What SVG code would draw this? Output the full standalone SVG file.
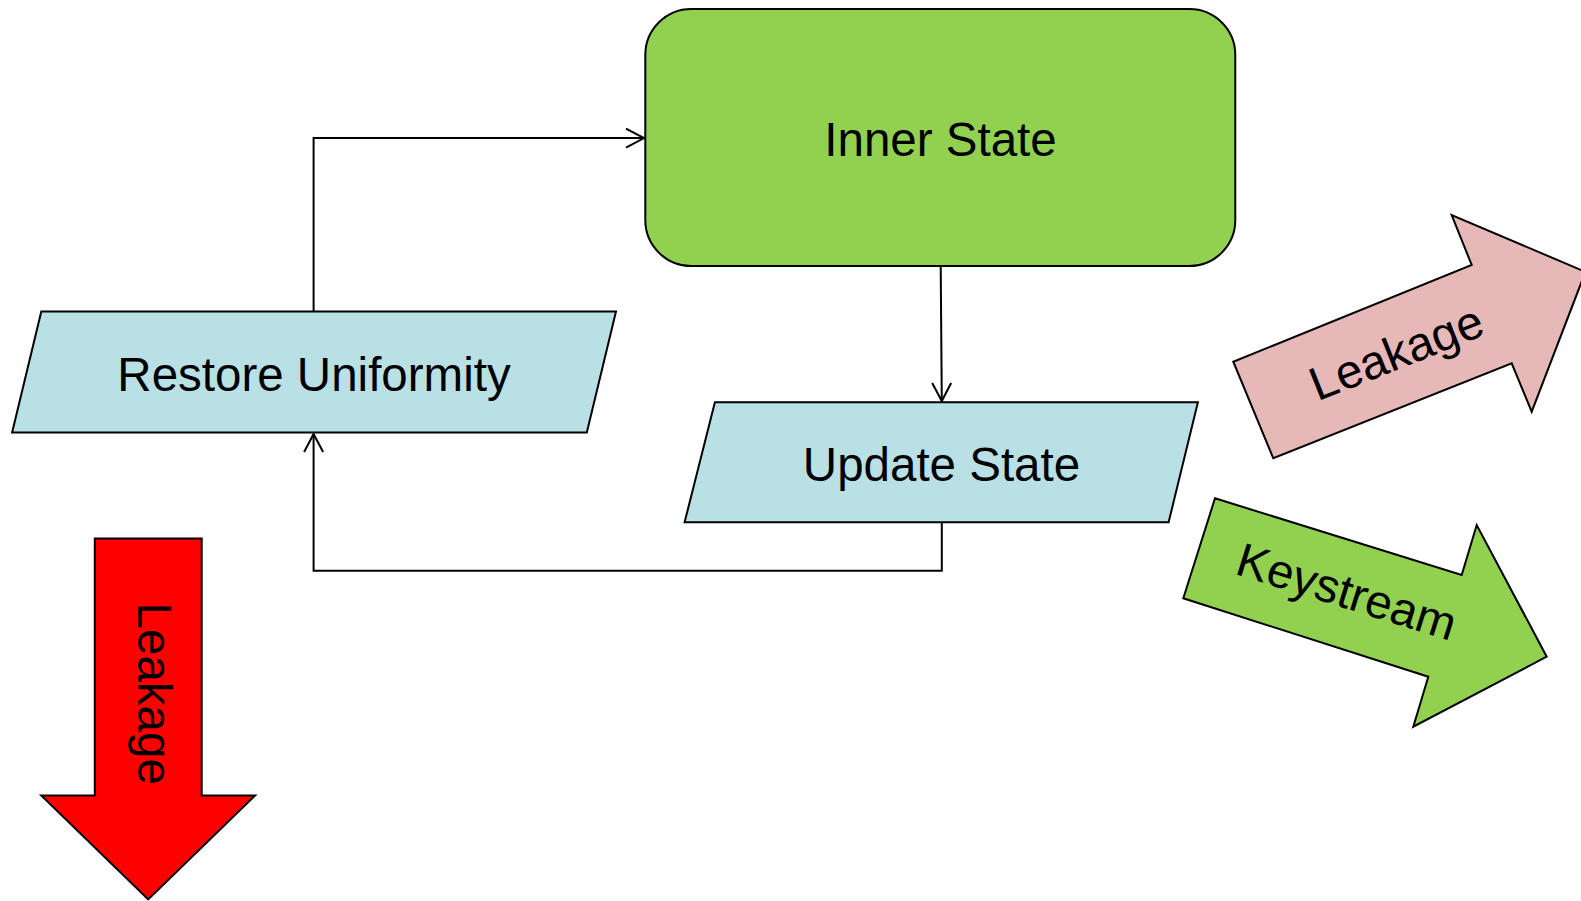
<svg xmlns="http://www.w3.org/2000/svg" width="1581" height="901" viewBox="0 0 1581 901">
<style>
.lbl{font-family:"Liberation Sans",Arial,sans-serif;font-size:47.5px;fill:#000;text-anchor:middle}
.io{fill:#B9E0E4;stroke:#000;stroke-width:2}
.conn{fill:none;stroke:#000;stroke-width:2}
.big{stroke:#000;stroke-width:2;stroke-linejoin:miter}
</style>
<defs>
<marker id="open" markerUnits="userSpaceOnUse" markerWidth="24" markerHeight="24" viewBox="-20 -12 24 24" refX="0" refY="0" orient="auto">
<path d="M-18,-9.5 L0,0 L-18,9.5" fill="none" stroke="#000" stroke-width="2"/>
</marker>
</defs>
<rect width="1581" height="901" fill="#fff"/>
<g id="connectors">
<path class="conn" d="M313.6,311.6 V138.1 H644" marker-end="url(#open)"/>
<path class="conn" d="M940.7,266.2 L941.8,401" marker-end="url(#open)"/>
<path class="conn" d="M941.8,522.3 V570.7 H313.6 V434" marker-end="url(#open)"/>
</g>
<g id="inner-state">
<rect x="645.3" y="9.1" width="590" height="257" rx="46" ry="46" fill="#92D050" stroke="#000" stroke-width="2"/>
<text class="lbl" x="940.5" y="156">Inner State</text>
</g>
<g id="restore-uniformity">
<polygon class="io" points="41.3,311.6 616,311.6 586.8,432.6 12.1,432.6"/>
<text class="lbl" x="314" y="391">Restore Uniformity</text>
</g>
<g id="update-state">
<polygon class="io" points="714.9,402.3 1197.9,402.3 1168.6,522.3 684.6,522.3"/>
<text class="lbl" x="941.5" y="481">Update State</text>
</g>
<g id="leakage-down">
<polygon class="big" fill="#FF0000" points="94.8,538.4 201.7,538.4 201.7,795.5 255.1,795.5 148.2,899.4 41.3,795.5 94.8,795.5"/>
<text class="lbl" transform="translate(137.5,693.7) rotate(90)" x="0" y="0">Leakage</text>
</g>
<g id="leakage-right">
<polygon class="big" fill="#E6B9B8" points="1233.3,361.7 1471.7,265 1451.7,215 1585.4,271.9 1531.7,411.7 1511.7,363.3 1273.3,458.3"/>
<text class="lbl" transform="translate(1396,352) rotate(-21.7)" x="0" y="17">Leakage</text>
</g>
<g id="keystream">
<polygon class="big" fill="#92D050" points="1215,498.3 1461.7,575 1476.7,525 1546.7,656.7 1413.3,726.7 1428.3,676.7 1183.3,598.3"/>
<text class="lbl" transform="translate(1347,591) rotate(17.3)" x="0" y="17">Keystream</text>
</g>
</svg>
